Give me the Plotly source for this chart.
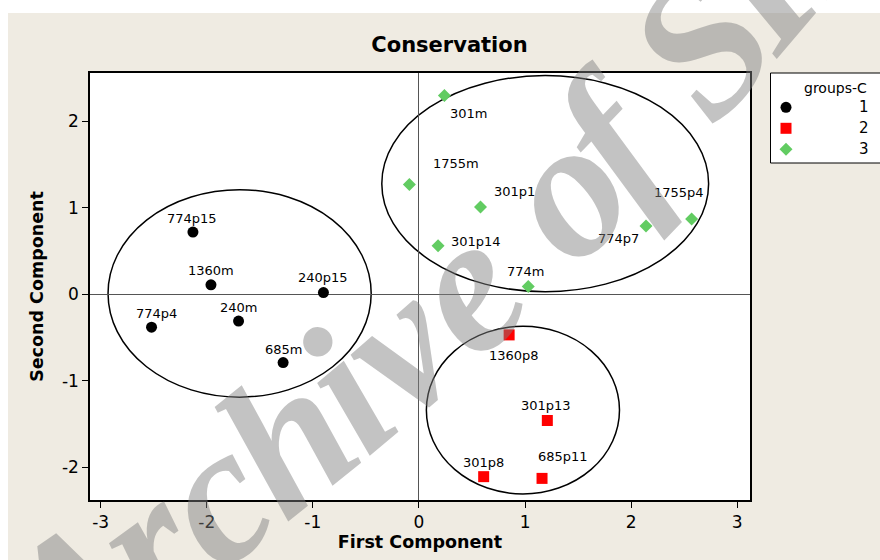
import math
import plotly.graph_objects as go

W, H = 880, 560

# ---- data: principal component scores, grouped ----
g1_names = ["774p15", "1360m", "240p15", "774p4", "240m", "685m"]
g1_x = [-2.13, -1.96, -0.90, -2.52, -1.70, -1.28]
g1_y = [0.72, 0.11, 0.02, -0.38, -0.31, -0.79]

g2_names = ["1360p8", "301p13", "301p8", "685p11"]
g2_x = [0.85, 1.21, 0.61, 1.16]
g2_y = [-0.47, -1.46, -2.11, -2.13]

g3_names = ["301m", "1755m", "301p1", "301p14", "774m", "774p7", "1755p4"]
g3_x = [0.24, -0.09, 0.58, 0.18, 1.03, 2.14, 2.57]
g3_y = [2.30, 1.27, 1.01, 0.56, 0.09, 0.79, 0.87]

group_labels = ["1", "2", "3"]

# outline ellipses around each group (bounding box in data units)
ell_x0 = [-2.93, -0.35, 0.07]
ell_x1 = [-0.45, 2.73, 1.89]
ell_y0 = [-1.19, 0.03, -2.31]
ell_y1 = [1.21, 2.53, -0.37]

x_ticks = [-3, -2, -1, 0, 1, 2, 3]
y_ticks = [-2, -1, 0, 1, 2]

# ---- styling ----
FONT = "DejaVu Sans"
BEIGE = "#efebe2"
GREEN = "#62cc62"
styles = [
    dict(color="black", symbol="circle", size=11),
    dict(color="#ff0000", symbol="square", size=11),
    dict(color=GREEN, symbol="diamond", size=10),
]

# label offsets in pixels (dx, dy with dy pointing up)
label_offsets = {
    "774p15": (-1, 14), "1360m": (0, 14), "240p15": (0, 15), "774p4": (5, 14),
    "240m": (0, 14), "685m": (0, 13),
    "1360p8": (5, -21), "301p13": (-1, 15), "301p8": (0, 14), "685p11": (21, 22),
    "301m": (24, -18), "1755m": (47, 21), "301p1": (34, 15), "301p14": (38, 4),
    "774m": (-3, 15), "774p7": (-28, -13), "1755p4": (-13, 27),
}

# plot area in pixels
PX0, PX1, PY0, PY1 = 90, 750, 73, 500
# legend box in pixels
LX0, LY0, LY1 = 770, 73, 163

fig = go.Figure()

groups = [(g1_names, g1_x, g1_y), (g2_names, g2_x, g2_y), (g3_names, g3_x, g3_y)]
for (names, xs, ys), st, lab in zip(groups, styles, group_labels):
    fig.add_trace(go.Scatter(
        x=xs, y=ys, mode="markers", name=lab, text=names,
        marker=dict(color=st["color"], symbol=st["symbol"], size=st["size"],
                    line=dict(width=0)),
        showlegend=False, xaxis="x", yaxis="y",
    ))
    for n, xv, yv in zip(names, xs, ys):
        dx, dy = label_offsets[n]
        fig.add_annotation(x=xv, y=yv, xref="x", yref="y", text=n, showarrow=False,
                           xshift=dx, yshift=dy,
                           font=dict(family=FONT, size=13, color="black"))

# group outlines
for x0, x1, y0, y1 in zip(ell_x0, ell_x1, ell_y0, ell_y1):
    fig.add_shape(type="circle", xref="x", yref="y", x0=x0, x1=x1, y0=y0, y1=y1,
                  line=dict(color="black", width=1.5), layer="below")

# legend drawn on its own small axes (pixel units)
legend_rows = [107.3, 128.3, 149.3]
for st, lab, ry in zip(styles, group_labels, legend_rows):
    fig.add_trace(go.Scatter(
        x=[786], y=[ry], mode="markers", showlegend=False, hoverinfo="skip",
        marker=dict(color=st["color"], symbol=st["symbol"], size=st["size"],
                    line=dict(width=0)),
        xaxis="x2", yaxis="y2",
    ))
    fig.add_annotation(x=871, y=ry, xref="x2", yref="y2", text=lab, showarrow=False,
                       xanchor="right", yanchor="middle",
                       font=dict(family=FONT, size=15, color="black"))
fig.add_annotation(x=835, y=88, xref="x2", yref="y2", text="groups-C", showarrow=False,
                   xanchor="center", yanchor="middle",
                   font=dict(family=FONT, size=14, color="black"))
fig.add_shape(type="rect", xref="paper", yref="paper",
              x0=(LX0 + 0.5) / W, x1=1.02, y0=1 - LY1 / H, y1=1 - LY0 / H,
              line=dict(color="black", width=1), layer="above")

# white strips at the top and left edge of the page
fig.add_shape(type="rect", xref="paper", yref="paper", x0=-0.01, x1=1.01,
              y0=1 - 13 / H, y1=1.01, fillcolor="white", line=dict(width=0), layer="below")
fig.add_shape(type="rect", xref="paper", yref="paper", x0=-0.01, x1=8 / W,
              y0=-0.01, y1=1.01, fillcolor="white", line=dict(width=0), layer="below")

# watermark text laid along a gentle arc
wm_text = "Archive of SID"
adv = {"A": .611, "r": .389, "c": .444, "h": .5, "i": .278, "v": .444, "e": .444,
       " ": .25, "o": .5, "f": .278, "S": .5, "I": .333, "D": .722}
WM_SIZE = 195
centers, s = [], 0.0
for ch in wm_text:
    centers.append(s + adv[ch] * WM_SIZE / 2)
    s += adv[ch] * WM_SIZE
s_ref = centers[wm_text.index("o")]
REF_PT = (563.0, 190.0)


def wm_angle(sv):
    return 45.0 + 0.0164 * sv


def wm_point(sv):
    step = 1.0 if sv >= 0 else -1.0
    x, y = REF_PT
    for i in range(int(abs(sv))):
        a = math.radians(wm_angle(step * (i + 0.5)))
        x += step * math.cos(a)
        y -= step * math.sin(a)
    return x, y


for ch, c in zip(wm_text, centers):
    if ch == " ":
        continue
    sv = c - s_ref
    px, py = wm_point(sv)
    fig.add_annotation(x=px / W, y=1 - py / H, xref="paper", yref="paper", text=ch,
                       showarrow=False, xanchor="center", yanchor="middle",
                       textangle=-wm_angle(sv),
                       font=dict(family="Liberation Serif", size=WM_SIZE, style="italic",
                                 weight="bold", color="rgba(128,128,128,0.47)"))

axis_common = dict(
    showline=True, linecolor="black", linewidth=1.5, mirror=True,
    ticks="outside", ticklen=6, tickwidth=1, tickcolor="black",
    showgrid=False, zeroline=True, zerolinecolor="#555555", zerolinewidth=1,
    tickfont=dict(family=FONT, size=17, color="black"), automargin=False,
)

fig.update_layout(
    width=W, height=H,
    margin=dict(l=0, r=0, t=0, b=0),
    paper_bgcolor=BEIGE, plot_bgcolor="white",
    title=dict(text="<b>Conservation</b>", x=449.5 / W, y=1 - 45 / H,
               xanchor="center", yanchor="middle",
               font=dict(family=FONT, size=21, color="black")),
    xaxis=dict(domain=[PX0 / W, PX1 / W], range=[-3.10, 3.12],
               tickmode="array", tickvals=x_ticks, ticktext=[str(v) for v in x_ticks],
               title=dict(text="<b>First Component</b>", standoff=4,
                          font=dict(family=FONT, size=17.5, color="black")),
               **axis_common),
    yaxis=dict(domain=[1 - PY1 / H, 1 - PY0 / H], range=[-2.38, 2.56],
               tickmode="array", tickvals=y_ticks, ticktext=[str(v) for v in y_ticks],
               title=dict(text="<b>Second Component</b>", standoff=14,
                          font=dict(family=FONT, size=17.5, color="black")),
               **axis_common),
    xaxis2=dict(domain=[LX0 / W, 1.0], range=[LX0, W], visible=False, anchor="y2"),
    yaxis2=dict(domain=[1 - LY1 / H, 1 - LY0 / H], range=[LY1, LY0], visible=False,
                anchor="x2"),
    showlegend=False,
)

fig.write_html("out.html")
